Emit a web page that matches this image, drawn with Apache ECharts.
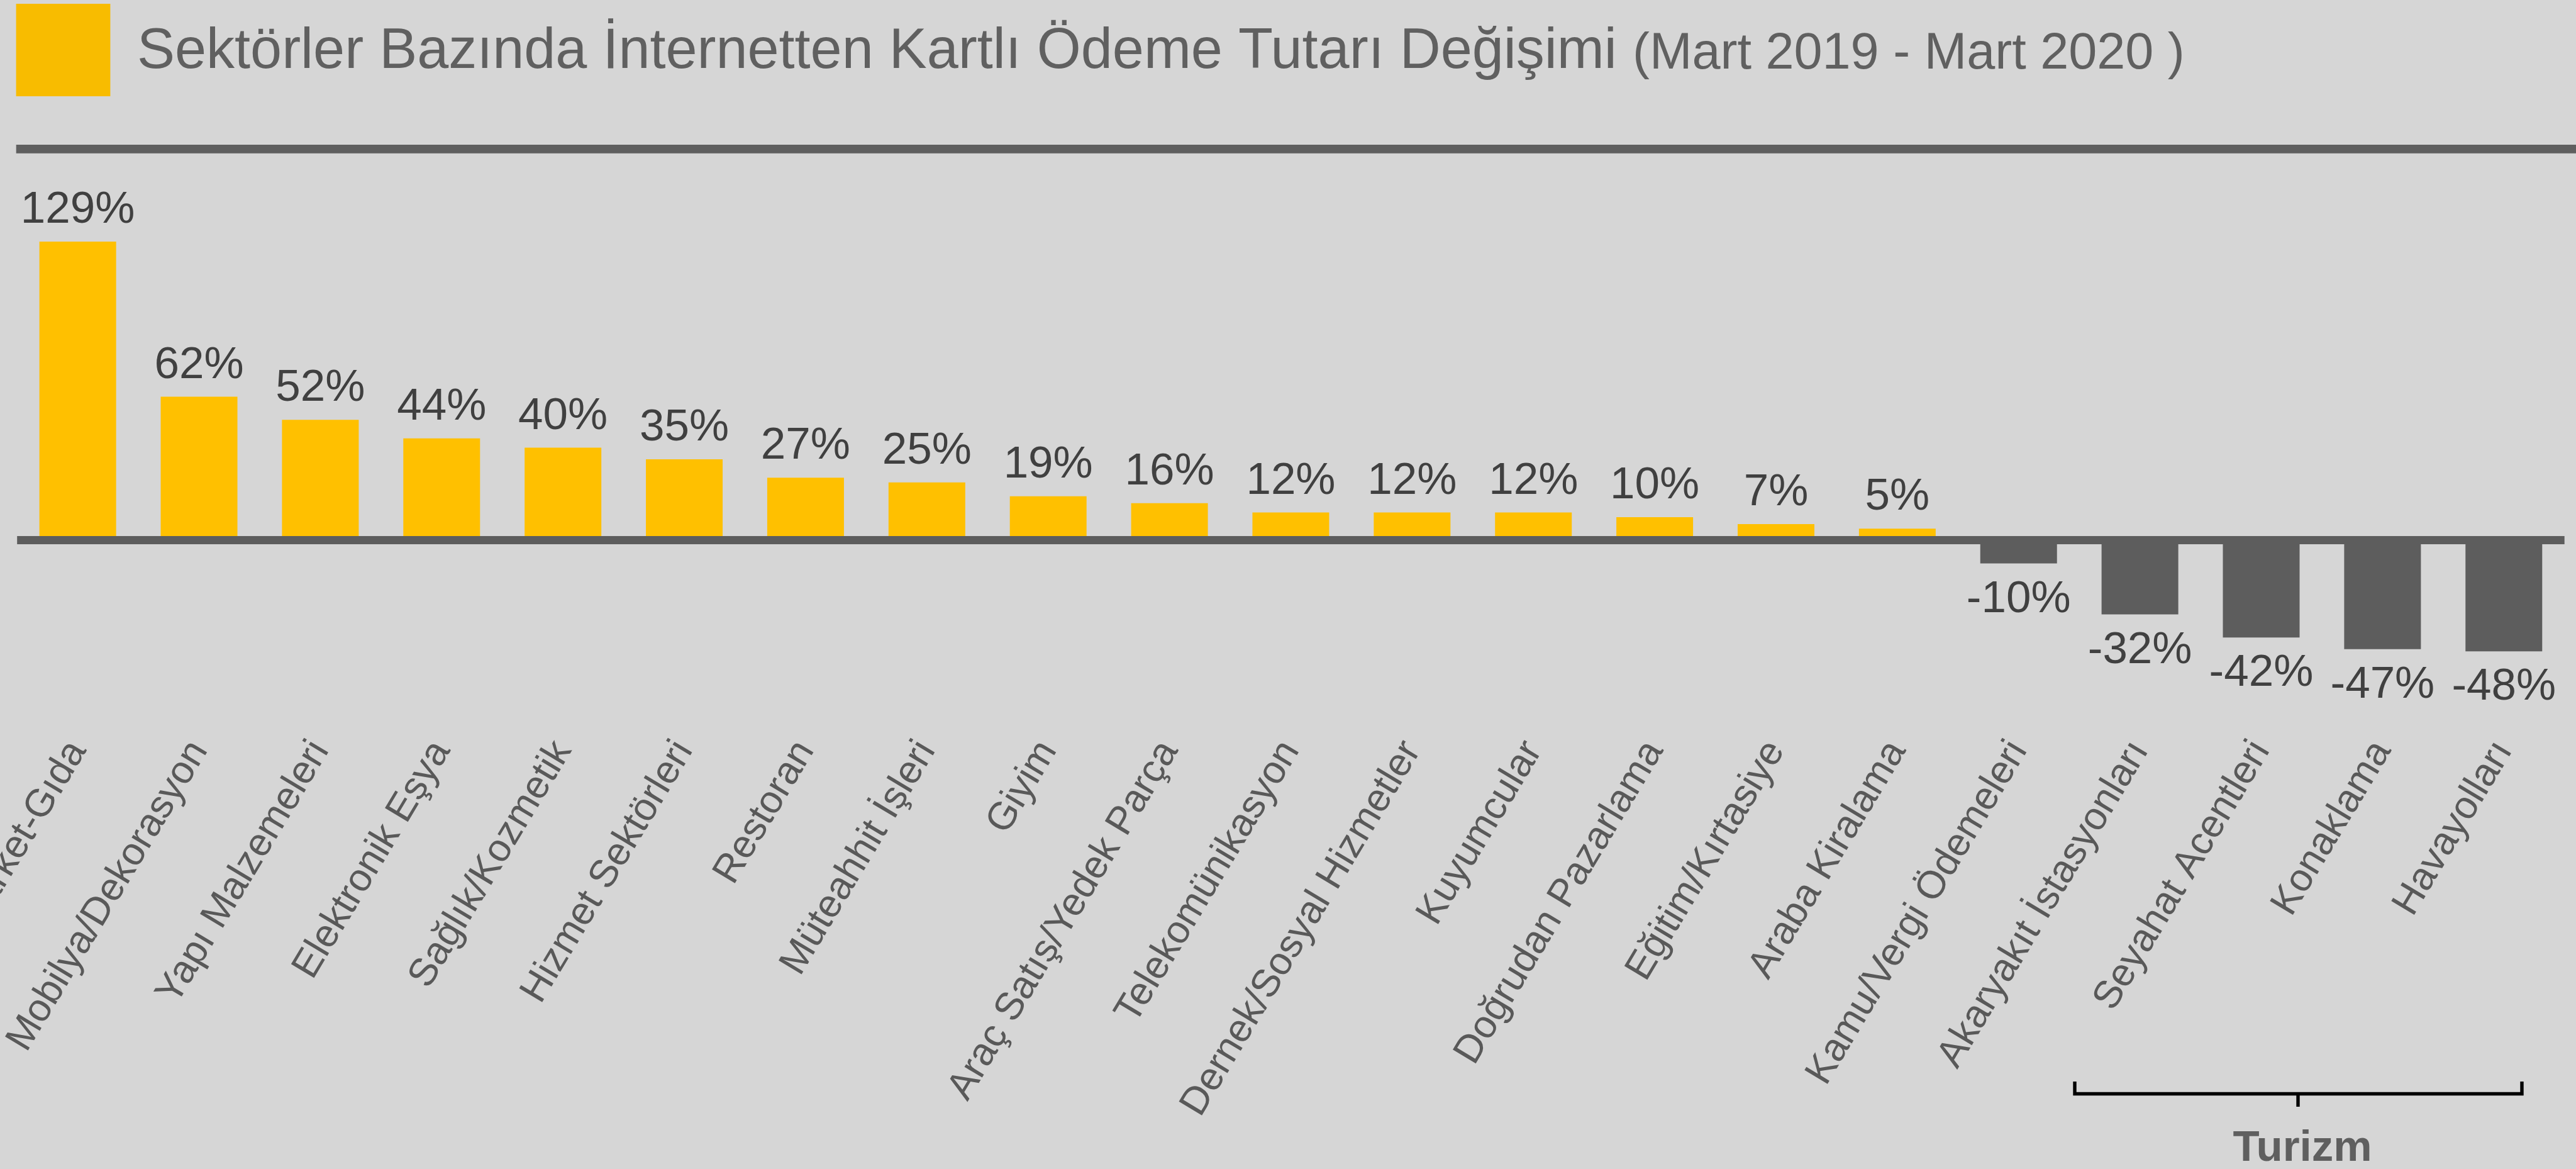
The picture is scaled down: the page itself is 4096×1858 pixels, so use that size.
<!DOCTYPE html>
<html>
<head>
<meta charset="utf-8">
<title>Sektörler Bazında İnternetten Kartlı Ödeme Tutarı Değişimi</title>
<script src="https://cdn.jsdelivr.net/npm/echarts@6/dist/echarts.min.js"></script>
<style>
  html, body { margin: 0; padding: 0; background: #d6d6d6; }
  #main { width: 4096px; height: 1858px; }
</style>
</head>
<body>
<div id="main"></div>
<script>
// sektörler (x ekseni)
var sektorler = [
  'Market-Gıda', 'Mobilya/Dekorasyon', 'Yapı Malzemeleri', 'Elektronik Eşya',
  'Sağlık/Kozmetik', 'Hizmet Sektörleri', 'Restoran', 'Müteahhit İşleri', 'Giyim',
  'Araç Satış/Yedek Parça', 'Telekomünikasyon', 'Dernek/Sosyal Hizmetler',
  'Kuyumcular', 'Doğrudan Pazarlama', 'Eğitim/Kırtasiye', 'Araba Kiralama',
  'Kamu/Vergi Ödemeleri', 'Akaryakıt İstasyonları', 'Seyahat Acentleri',
  'Konaklama', 'Havayolları'
];
// Mart 2019 - Mart 2020 değişim (%)
var degisim = [129, 62, 52, 44, 40, 35, 27, 25, 19, 16, 12, 12, 12, 10, 7, 5, -10, -32, -42, -47, -48];

var sari = '#ffc000';
var gri = '#5d5d5d';
var font = '"Liberation Sans", Arial, sans-serif';

var barData = degisim.map(function (v) {
  return {
    value: v,
    itemStyle: { color: v < 0 ? gri : sari },
    label: { position: v < 0 ? 'bottom' : 'top', distance: v < 0 ? 22 : 14 }
  };
});

var myChart = echarts.init(document.getElementById('main'));

var option = {
  backgroundColor: '#d6d6d6',
  animation: false,
  title: [
    {
      text: 'Sektörler Bazında İnternetten Kartlı Ödeme Tutarı Değişimi',
      left: 218, top: 38, padding: 0,
      textStyle: { fontSize: 90, fontWeight: 'normal', color: '#606060', fontFamily: font }
    },
    {
      text: '(Mart 2019 - Mart 2020 )',
      left: 2596, top: 46, padding: 0,
      textStyle: { fontSize: 81, fontWeight: 'normal', color: '#606060', fontFamily: font }
    }
  ],
  grid: { left: 27.2, right: 18.3, top: 343.5, bottom: 778.5, containLabel: false, outerBoundsMode: 'none' },
  xAxis: {
    type: 'category',
    data: sektorler,
    z: 3,
    axisLine: { lineStyle: { color: gri, width: 12.8, cap: 'butt' } },
    axisTick: { show: false },
    axisLabel: {
      interval: 0,
      rotate: 59,
      margin: 104,
      fontSize: 62,
      color: '#595959',
      fontFamily: font
    }
  },
  yAxis: {
    type: 'value',
    min: -60,
    max: 140,
    show: false,
    splitLine: { show: false }
  },
  series: [{
    type: 'bar',
    data: barData,
    barWidth: 122,
    label: {
      show: true,
      formatter: '{c}%',
      fontSize: 71,
      color: '#404040',
      fontFamily: font
    }
  }],
  graphic: [
    { type: 'rect', shape: { x: 25.6, y: 5.9, width: 149.8, height: 147 }, style: { fill: '#f8bc00' } },
    { type: 'rect', shape: { x: 25.7, y: 230, width: 4071, height: 13.8 }, style: { fill: '#5f5f5f' } },
    {
      type: 'polyline',
      shape: { points: [[3299, 1719], [3299, 1738.5], [4010, 1738.5], [4010, 1719]] },
      style: { stroke: '#000', lineWidth: 5.4, fill: null }
    },
    {
      type: 'line',
      shape: { x1: 3654, y1: 1738, x2: 3654, y2: 1759 },
      style: { stroke: '#000', lineWidth: 5.4 }
    },
    {
      type: 'text', x: 3661, y: 1826,
      style: {
        text: 'Turizm', fill: '#5f5f5f', fontSize: 69, fontWeight: 'bold',
        fontFamily: font, align: 'center', verticalAlign: 'middle'
      }
    }
  ]
};

myChart.setOption(option);
</script>
</body>
</html>
